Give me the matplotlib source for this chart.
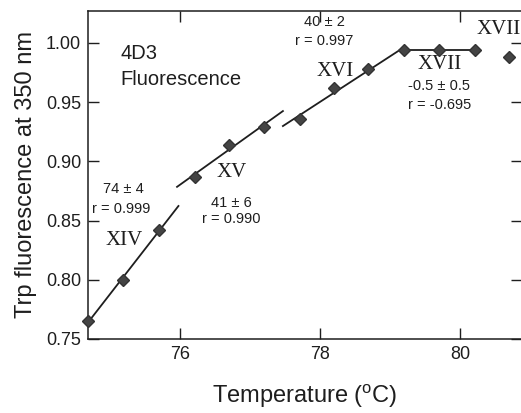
import numpy as np
import matplotlib
matplotlib.use('Agg')
import matplotlib.pyplot as plt

# Temperature (C) and relative Trp fluorescence at 350 nm
temp = [74.69, 75.19, 75.70, 76.21, 76.70, 77.20, 77.71, 78.20, 78.69, 79.19, 79.70, 80.21, 80.70]
fluor = [0.765, 0.800, 0.842, 0.887, 0.914, 0.929, 0.936, 0.962, 0.978, 0.994, 0.994, 0.994, 0.988]

# linear fits: (first index, last index) of the points used, and x span drawn
fit_idx = [(0, 2), (3, 5), (6, 9), (9, 11)]
fit_span = [(74.67, 75.98), (75.96, 77.47), (77.47, 79.19), (79.19, 80.21)]

xticks = [76, 78, 80]
yticks = [0.75, 0.80, 0.85, 0.90, 0.95, 1.00]

ink = '#1e1e1e'
sans = 'Liberation Sans'
serif = 'Liberation Serif'

fig = plt.figure(figsize=(5.21, 4.13), dpi=100)
ax = fig.add_axes([88 / 521, 1 - 339 / 413, (522 - 88) / 521, (339 - 11) / 413])

t = np.array(temp)
f = np.array(fluor)
for (i0, i1), (x0, x1) in zip(fit_idx, fit_span):
    k, b = np.polyfit(t[i0:i1 + 1], f[i0:i1 + 1], 1)
    xs = np.array([x0, x1])
    ax.plot(xs, k * xs + b, color=ink, lw=1.3, zorder=2)

ax.plot(temp, fluor, ls='none', marker='D', ms=6, color='#444444',
        mec='#333333', zorder=3, clip_on=False)

ax.set_xlim(74.69, 80.88)
ax.set_ylim(0.75, 1.027)
ax.set_xticks(xticks)
ax.set_xticklabels([str(v) for v in xticks])
ax.set_yticks(yticks)
ax.set_yticklabels(['%.2f' % v for v in yticks])
ax.tick_params(direction='in', length=8, width=1, color=ink, labelcolor=ink,
               top=True, right=True, labelsize=13, pad=5)
for lbl in ax.get_xticklabels() + ax.get_yticklabels():
    lbl.set_fontfamily(sans)
for s in ax.spines.values():
    s.set_color(ink)
    s.set_linewidth(1.1)

ax.set_xlabel('Temperature ($\\mathregular{^oC}$)', fontsize=17, family=sans,
              color=ink, labelpad=14)
ax.set_ylabel('Trp fluorescence at 350 nm', fontsize=17, family=sans,
              color=ink, labelpad=6)

# panel title
ax.text(75.15, 0.9915, '4D3', fontsize=14.5, family=sans, color=ink, va='center')
ax.text(75.15, 0.969, 'Fluorescence', fontsize=14.5, family=sans, color=ink, va='center')

# segment labels
for x, y, s in [(75.20, 0.833, 'XIV'), (76.74, 0.891, 'XV'), (78.22, 0.9756, 'XVI'),
                (79.70, 0.982, 'XVII')]:
    ax.text(x, y, s, fontsize=15, family=serif, color=ink, ha='center', va='center')
ax.text(80.23, 1.0115, 'XVII', fontsize=15, family=serif, color=ink, ha='left',
        va='center', clip_on=False)

# fit results
for x, y, s in [(75.20, 0.877, '74 ± 4'), (75.16, 0.860, 'r = 0.999'),
                (76.73, 0.8645, '41 ± 6'), (76.74, 0.851, 'r = 0.990'),
                (78.06, 1.0175, '40 ± 2'), (78.06, 1.002, 'r = 0.997'),
                (79.70, 0.9637, '-0.5 ± 0.5'), (79.70, 0.9474, 'r = -0.695')]:
    ax.text(x, y, s, fontsize=10.5, family=sans, color=ink, ha='center', va='center')

fig.savefig('out.png', dpi=100)
